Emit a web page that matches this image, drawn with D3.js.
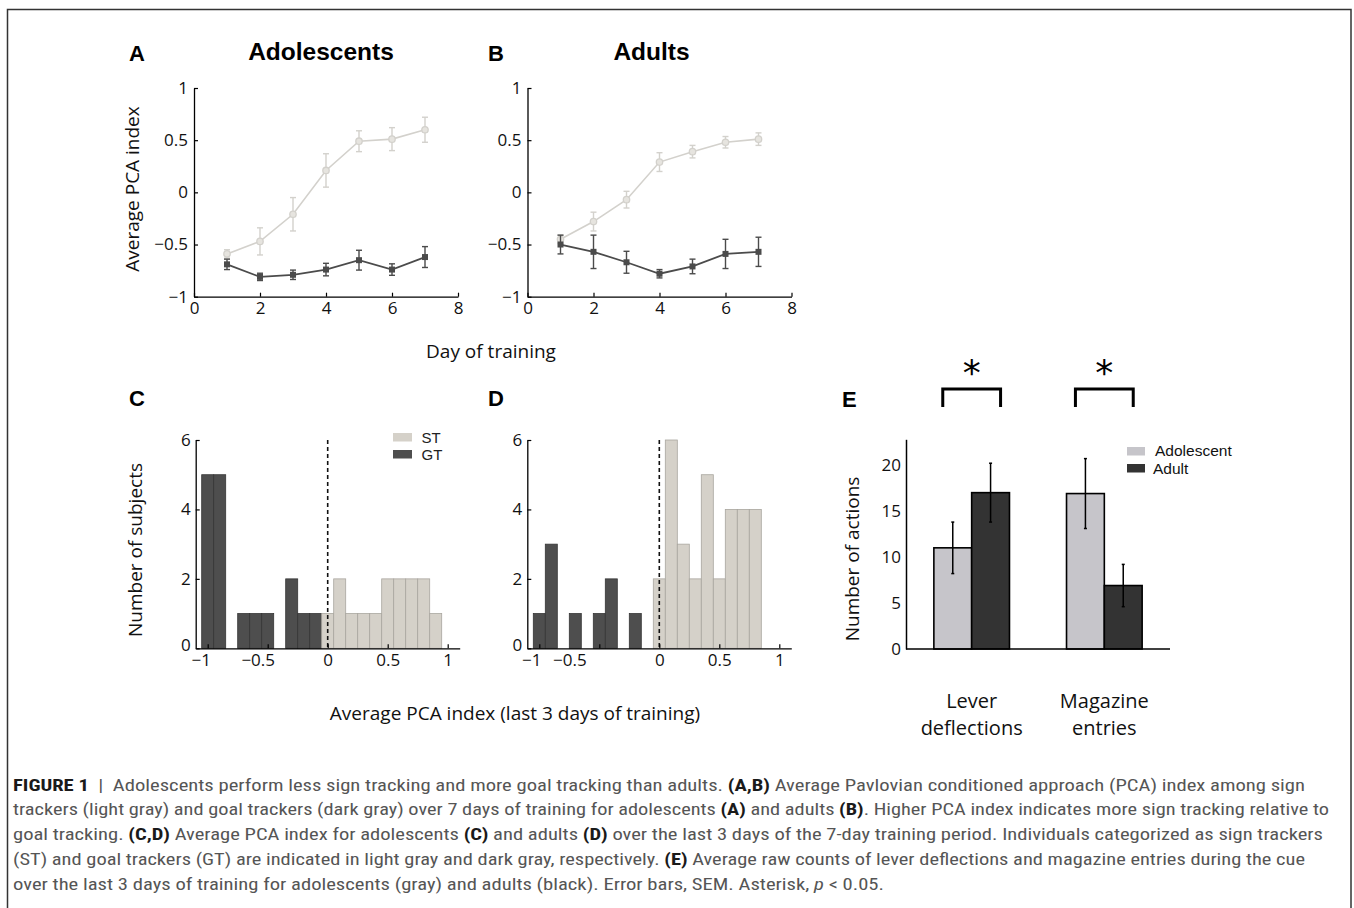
<!DOCTYPE html>
<html>
<head>
<meta charset="utf-8">
<script src="https://cdn.jsdelivr.net/npm/d3@7"></script>
<style>
  body { margin: 0; background: #fff; }
  svg { display: block; }
</style>
</head>
<body>
<script>
// panels A, B: average PCA index by day
const days = [1, 2, 3, 4, 5, 6, 7];
const adolST = [-0.59, -0.47, -0.21, 0.21, 0.49, 0.51, 0.60];
const adolSTErr = [0.04, 0.13, 0.16, 0.16, 0.10, 0.11, 0.12];
const adolGT = [-0.69, -0.81, -0.79, -0.74, -0.65, -0.74, -0.62];
const adolGTErr = [0.05, 0.035, 0.045, 0.06, 0.095, 0.055, 0.10];
const adultST = [-0.45, -0.28, -0.07, 0.29, 0.39, 0.48, 0.51];
const adultSTErr = [0.04, 0.09, 0.08, 0.09, 0.06, 0.055, 0.06];
const adultGT = [-0.50, -0.57, -0.67, -0.78, -0.71, -0.59, -0.57];
const adultGTErr = [0.09, 0.16, 0.105, 0.04, 0.07, 0.14, 0.14];
const dayTicks = [0, 2, 4, 6, 8];
const pcaTicks = [-1, -0.5, 0, 0.5, 1];

// panels C, D: histograms of PCA index (bin centres, width 0.1)
const binCenters = [-1.0, -0.9, -0.8, -0.7, -0.6, -0.5, -0.4, -0.3, -0.2, -0.1,
                    0.0, 0.1, 0.2, 0.3, 0.4, 0.5, 0.6, 0.7, 0.8, 0.9];
const adolHistGT = [5, 5, 0, 1, 1, 1, 0, 2, 1, 1, 0, 0, 0, 0, 0, 0, 0, 0, 0, 0];
const adolHistST = [0, 0, 0, 0, 0, 0, 0, 0, 0, 0, 1, 2, 1, 1, 1, 2, 2, 2, 2, 1];
const adultHistGT = [1, 3, 0, 1, 0, 1, 2, 0, 1, 0, 0, 0, 0, 0, 0, 0, 0, 0, 0, 0];
const adultHistST = [0, 0, 0, 0, 0, 0, 0, 0, 0, 0, 2, 6, 3, 2, 5, 2, 4, 4, 4, 0];
const histXTicks = [-1, -0.5, 0, 0.5, 1];
const histYTicks = [0, 2, 4, 6];

// panel E: number of actions
const actionCats = ["Lever deflections", "Magazine entries"];
const adolMeans = [11.0, 16.9];
const adolSem = [2.8, 3.8];
const adultMeans = [17.0, 6.9];
const adultSem = [3.2, 2.3];
const actionTicks = [0, 5, 10, 15, 20];

const axisFont = "'Open Sans', 'Lato', sans-serif";
const arial = "'Liberation Sans', Arial, sans-serif";
const lightLine = "#d3d1cc";
const darkLine = "#4b4b4b";

const svg = d3.select("body").append("svg")
    .attr("width", 1354)
    .attr("height", 908);

svg.append("rect").attr("width", 1354).attr("height", 908).attr("fill", "#fff");
svg.append("rect")
    .attr("x", 7.5).attr("y", 9.5)
    .attr("width", 1343.5).attr("height", 930)
    .attr("fill", "none")
    .attr("stroke", "#333")
    .attr("stroke-width", 1.5);

const minus = v => (v < 0 ? "\u2212" : "") + Math.abs(v);

function styleAxis(sel, size) {
    sel.attr("font-family", axisFont).attr("font-size", size || 17);
    sel.select(".domain").attr("stroke", "#000").attr("stroke-width", 1.3);
    sel.selectAll(".tick line").attr("stroke", "#000").attr("stroke-width", 1.2);
    sel.selectAll(".tick text").attr("fill", "#111");
}

function panelLetter(txt, x, y) {
    svg.append("text")
        .attr("x", x).attr("y", y)
        .attr("font-family", arial)
        .attr("font-weight", "bold")
        .attr("font-size", 22)
        .text(txt);
}

function drawSeries(g, x, y, vals, errs, color, marker) {
    const line = d3.line().x((d, i) => x(days[i])).y(d => y(d));
    g.append("path")
        .datum(vals)
        .attr("d", line)
        .attr("fill", "none")
        .attr("stroke", color)
        .attr("stroke-width", marker === "square" ? 1.8 : 1.6);
    const eb = g.append("g").attr("stroke", color).attr("stroke-width", 1.4);
    vals.forEach((v, i) => {
        const cx = x(days[i]);
        eb.append("line").attr("x1", cx).attr("x2", cx).attr("y1", y(v - errs[i])).attr("y2", y(v + errs[i]));
        eb.append("line").attr("x1", cx - 3).attr("x2", cx + 3).attr("y1", y(v - errs[i])).attr("y2", y(v - errs[i]));
        eb.append("line").attr("x1", cx - 3).attr("x2", cx + 3).attr("y1", y(v + errs[i])).attr("y2", y(v + errs[i]));
    });
    if (marker === "square") {
        g.selectAll(null).data(vals).enter().append("rect")
            .attr("x", (d, i) => x(days[i]) - 3)
            .attr("y", d => y(d) - 3)
            .attr("width", 6).attr("height", 6)
            .attr("fill", color);
    } else {
        g.selectAll(null).data(vals).enter().append("circle")
            .attr("cx", (d, i) => x(days[i]))
            .attr("cy", d => y(d))
            .attr("r", 3.2)
            .attr("fill", "#e6e4df")
            .attr("stroke", color)
            .attr("stroke-width", 1.3);
    }
}

function linePanel(x0, st, stErr, gt, gtErr) {
    const x = d3.scaleLinear().domain([0, 8]).range([x0, x0 + 264]);
    const y = d3.scaleLinear().domain([-1, 1]).range([296.7, 88]);
    const g = svg.append("g");
    const xa = g.append("g")
        .attr("transform", `translate(0,${y(-1)})`)
        .call(d3.axisBottom(x).tickValues(dayTicks).tickSizeInner(-4).tickSizeOuter(0).tickPadding(5).tickFormat(minus));
    const ya = g.append("g")
        .attr("transform", `translate(${x(0)},0)`)
        .call(d3.axisLeft(y).tickValues(pcaTicks).tickSizeInner(-4).tickSizeOuter(0).tickPadding(6).tickFormat(minus));
    styleAxis(xa);
    styleAxis(ya);
    drawSeries(g, x, y, st, stErr, lightLine, "circle");
    drawSeries(g, x, y, gt, gtErr, darkLine, "square");
}

function histPanel(x0, gtCounts, stCounts, labelShift, legend) {
    const x = d3.scaleLinear().domain([-1.1, 1.1]).range([x0, x0 + 264]);
    const y = d3.scaleLinear().domain([0, 6]).range([648.3, 440]);
    const g = svg.append("g");
    const half = 0.05;
    g.selectAll(null).data(binCenters.map((c, i) => ({c: c, n: gtCounts[i]})).filter(d => d.n > 0))
        .enter().append("rect")
        .attr("x", d => x(d.c - half))
        .attr("width", d => x(d.c + half) - x(d.c - half))
        .attr("y", d => y(d.n))
        .attr("height", d => y(0) - y(d.n))
        .attr("fill", "#4e4e4e")
        .attr("stroke", "#353535")
        .attr("stroke-width", 0.8);
    g.selectAll(null).data(binCenters.map((c, i) => ({c: c, n: stCounts[i]})).filter(d => d.n > 0))
        .enter().append("rect")
        .attr("x", d => x(d.c - half))
        .attr("width", d => x(d.c + half) - x(d.c - half))
        .attr("y", d => y(d.n))
        .attr("height", d => y(0) - y(d.n))
        .attr("fill", "#d5d1c9")
        .attr("stroke", "#a9a69f")
        .attr("stroke-width", 0.8);
    g.append("line")
        .attr("x1", x(0)).attr("x2", x(0))
        .attr("y1", y(6)).attr("y2", y(0))
        .attr("stroke", "#111")
        .attr("stroke-width", 1.6)
        .attr("stroke-dasharray", "4,3");
    const xa = g.append("g")
        .attr("transform", `translate(0,${y(0)})`)
        .call(d3.axisBottom(x).tickValues(histXTicks).tickSizeInner(-4).tickSizeOuter(0).tickPadding(6).tickFormat(minus));
    xa.selectAll(".tick text").attr("dx", d => labelShift[d] || 0);
    const ya = g.append("g")
        .attr("transform", `translate(${x(-1.1)},0)`)
        .call(d3.axisLeft(y).tickValues(histYTicks).tickSizeInner(-4).tickSizeOuter(0).tickPadding(5).tickFormat(d3.format("d")));
    ya.selectAll(".tick text").attr("dy", d => d === 0 ? "0.15em" : "0.32em");
    styleAxis(xa);
    styleAxis(ya);

    if (legend) {
        const lg = g.append("g").attr("font-family", arial).attr("font-size", 15);
        const items = [["ST", "#d5d1c9"], ["GT", "#4e4e4e"]];
        items.forEach((it, i) => {
            lg.append("rect").attr("x", 393).attr("y", 433 + i * 17).attr("width", 19).attr("height", 8.5).attr("fill", it[1]);
            lg.append("text").attr("x", 421.5).attr("y", 442.5 + i * 17).attr("fill", "#222").text(it[0]);
        });
    }
}

// ---------- A, B ----------
panelLetter("A", 129, 61);
panelLetter("B", 488, 61);
svg.append("text").attr("x", 321).attr("y", 60).attr("text-anchor", "middle")
    .attr("font-family", arial).attr("font-weight", "bold").attr("font-size", 24.5).text("Adolescents");
svg.append("text").attr("x", 651.5).attr("y", 60).attr("text-anchor", "middle")
    .attr("font-family", arial).attr("font-weight", "bold").attr("font-size", 24.5).text("Adults");

linePanel(194, adolST, adolSTErr, adolGT, adolGTErr);
linePanel(527.5, adultST, adultSTErr, adultGT, adultGTErr);

svg.append("text")
    .attr("transform", "translate(139,189) rotate(-90)")
    .attr("text-anchor", "middle")
    .attr("font-family", axisFont).attr("font-size", 19).attr("fill", "#111")
    .text("Average PCA index");
svg.append("text")
    .attr("x", 491).attr("y", 358)
    .attr("text-anchor", "middle")
    .attr("font-family", axisFont).attr("font-size", 19).attr("fill", "#111")
    .text("Day of training");

// ---------- C, D ----------
panelLetter("C", 129, 406);
panelLetter("D", 488, 406);
histPanel(195.7, adolHistGT, adolHistST, {"-1": -7, "-0.5": -10}, true);
histPanel(527.3, adultHistGT, adultHistST, {"-1": -8, "-0.5": -30}, false);

svg.append("text")
    .attr("transform", "translate(142,550) rotate(-90)")
    .attr("text-anchor", "middle")
    .attr("font-family", axisFont).attr("font-size", 19).attr("fill", "#111")
    .text("Number of subjects");
svg.append("text")
    .attr("x", 515).attr("y", 720)
    .attr("text-anchor", "middle")
    .attr("font-family", axisFont).attr("font-size", 19).attr("fill", "#111")
    .text("Average PCA index (last 3 days of training)");

// ---------- E ----------
panelLetter("E", 842, 407);
(function () {
    const x = d3.scaleBand().domain(actionCats).range([906, 1170]).paddingInner(0.43).paddingOuter(0.21);
    const sub = d3.scaleBand().domain(["adol", "adult"]).range([0, x.bandwidth()]);
    const y = d3.scaleLinear().domain([0, 22.8]).range([649, 439.3]);
    const g = svg.append("g");
    const rows = [];
    actionCats.forEach((c, i) => {
        rows.push({cat: c, grp: "adol", v: adolMeans[i], e: adolSem[i]});
        rows.push({cat: c, grp: "adult", v: adultMeans[i], e: adultSem[i]});
    });
    g.selectAll(null).data(rows).enter().append("rect")
        .attr("x", d => x(d.cat) + sub(d.grp))
        .attr("width", sub.bandwidth())
        .attr("y", d => y(d.v))
        .attr("height", d => y(0) - y(d.v))
        .attr("fill", d => d.grp === "adol" ? "#c6c5ca" : "#333333")
        .attr("stroke", "#000")
        .attr("stroke-width", 1.6);
    const eb = g.append("g").attr("stroke", "#000").attr("stroke-width", 1.5);
    rows.forEach(d => {
        const cx = x(d.cat) + sub(d.grp) + sub.bandwidth() / 2;
        eb.append("line").attr("x1", cx).attr("x2", cx).attr("y1", y(d.v - d.e)).attr("y2", y(d.v + d.e));
        eb.append("line").attr("x1", cx - 1.5).attr("x2", cx + 1.5).attr("y1", y(d.v - d.e)).attr("y2", y(d.v - d.e));
        eb.append("line").attr("x1", cx - 1.5).attr("x2", cx + 1.5).attr("y1", y(d.v + d.e)).attr("y2", y(d.v + d.e));
    });
    const ya = g.append("g")
        .attr("transform", `translate(${x.range()[0]},0)`)
        .call(d3.axisLeft(y).tickValues(actionTicks).tickSize(0).tickPadding(5));
    styleAxis(ya);
    ya.select(".domain").attr("stroke-width", 1.5);
    g.append("line")
        .attr("x1", x.range()[0]).attr("x2", x.range()[1])
        .attr("y1", y(0)).attr("y2", y(0))
        .attr("stroke", "#000").attr("stroke-width", 1.5);

    // category labels, brackets and asterisks
    actionCats.forEach(c => {
        const cx = x(c) + x.bandwidth() / 2;
        c.split(" ").forEach((w, j) => {
            g.append("text")
                .attr("x", cx).attr("y", 708 + j * 27)
                .attr("text-anchor", "middle")
                .attr("font-family", axisFont).attr("font-size", 20).attr("fill", "#111")
                .text(w);
        });
        const bx0 = x(c) + sub.bandwidth() / 2 - 10;
        const bx1 = x(c) + sub.bandwidth() * 1.5 + 10;
        g.append("path")
            .attr("d", `M${bx0},407 V389 H${bx1} V407`)
            .attr("fill", "none")
            .attr("stroke", "#000")
            .attr("stroke-width", 3);
        g.append("text")
            .attr("x", cx).attr("y", 385)
            .attr("text-anchor", "middle")
            .attr("font-family", "'DejaVu Sans', sans-serif")
            .attr("font-size", 36)
            .text("*");
    });

    // legend
    const lg = g.append("g").attr("font-family", arial).attr("font-size", 15.5).attr("fill", "#111");
    [["Adolescent", "#c6c5ca"], ["Adult", "#333333"]].forEach((it, i) => {
        lg.append("rect").attr("x", 1127).attr("y", 447 + i * 17).attr("width", 18).attr("height", 8.5).attr("fill", it[1]);
        lg.append("text").attr("x", i === 0 ? 1155 : 1153).attr("y", 456 + i * 17.5).text(it[0]);
    });

    svg.append("text")
        .attr("transform", "translate(859,559) rotate(-90)")
        .attr("text-anchor", "middle")
        .attr("font-family", axisFont).attr("font-size", 19).attr("fill", "#111")
        .text("Number of actions");
})();

// ---------- caption ----------
const captionLines = [
    [["b", "FIGURE 1"], ["n", "  |  Adolescents perform less sign tracking and more goal tracking than adults. "], ["b", "(A,B)"], ["n", " Average Pavlovian conditioned approach (PCA) index among sign"]],
    [["n", "trackers (light gray) and goal trackers (dark gray) over 7 days of training for adolescents "], ["b", "(A)"], ["n", " and adults "], ["b", "(B)"], ["n", ". Higher PCA index indicates more sign tracking relative to"]],
    [["n", "goal tracking. "], ["b", "(C,D)"], ["n", " Average PCA index for adolescents "], ["b", "(C)"], ["n", " and adults "], ["b", "(D)"], ["n", " over the last 3 days of the 7-day training period. Individuals categorized as sign trackers"]],
    [["n", "(ST) and goal trackers (GT) are indicated in light gray and dark gray, respectively. "], ["b", "(E)"], ["n", " Average raw counts of lever deflections and magazine entries during the cue"]],
    [["n", "over the last 3 days of training for adolescents (gray) and adults (black). Error bars, SEM. Asterisk, "], ["i", "p"], ["n", " < 0.05."]]
];
const captionWidths = [1292, 1316, 1310, 1292, 871];

captionLines.forEach((segs, i) => {
    const t = svg.append("text")
        .attr("x", 13)
        .attr("y", 790.5 + i * 24.8)
        .attr("font-family", "'Liberation Sans Narrow', 'Roboto Condensed', 'Liberation Sans', sans-serif")
        .attr("font-size", 16.5)
        .attr("fill", "#555")
        .attr("textLength", captionWidths[i])
        .attr("lengthAdjust", "spacingAndGlyphs")
        .attr("xml:space", "preserve")
        .style("white-space", "pre");
    segs.forEach(s => {
        const ts = t.append("tspan").text(s[1]);
        if (s[0] === "b") ts.attr("font-weight", "bold").attr("fill", "#1a1a1a");
        if (s[0] === "i") ts.attr("font-style", "italic");
    });
});
</script>
</body>
</html>
